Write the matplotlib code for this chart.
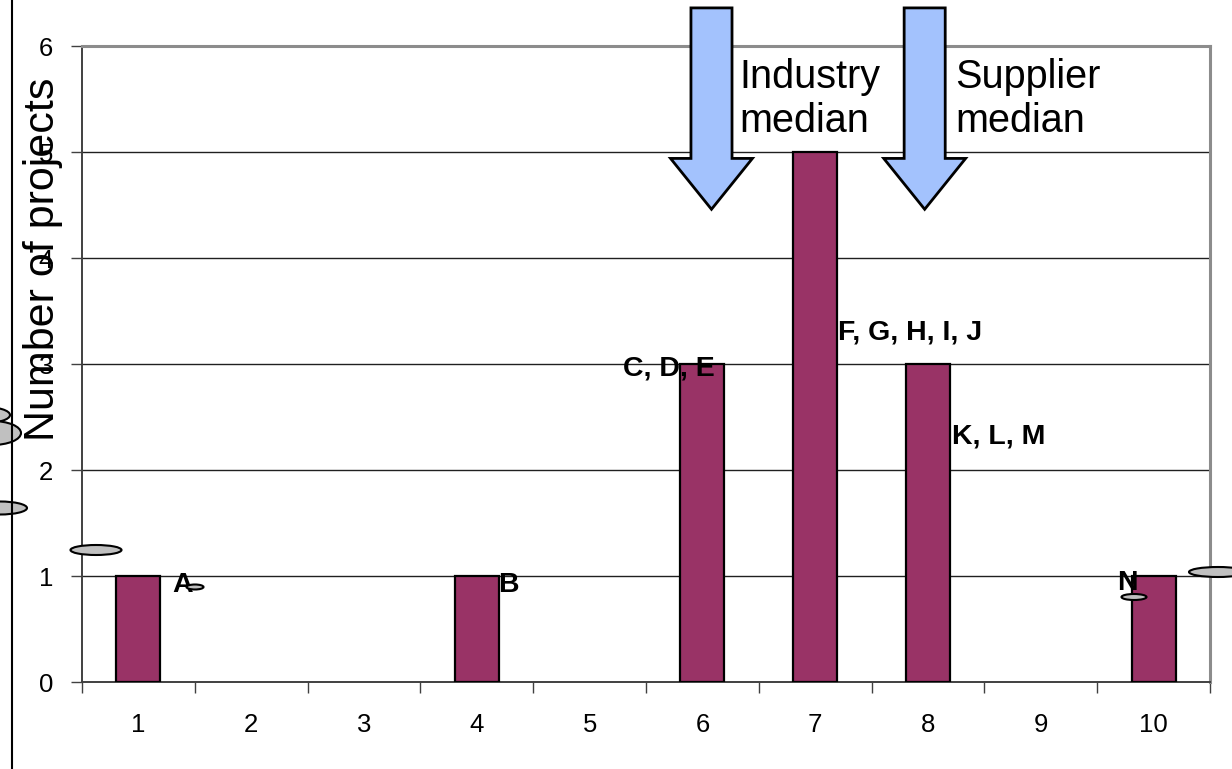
import matplotlib
matplotlib.use("Agg")
import matplotlib.pyplot as plt
from matplotlib.patches import Polygon, Ellipse
from matplotlib.lines import Line2D

plt.rcParams["font.family"] = ["Liberation Sans", "DejaVu Sans"]

# data
categories = [1, 2, 3, 4, 5, 6, 7, 8, 9, 10]
projects = [1, 0, 0, 1, 0, 3, 5, 3, 0, 1]
industry_median = 6.08
supplier_median = 7.97

# project letters next to bars: (text, x, y, ha)
bar_labels = [
    ("A", 1.30, 0.92, "left"),
    ("B", 4.19, 0.92, "left"),
    ("C, D, E", 6.11, 2.96, "right"),
    ("F, G, H, I, J", 7.20, 3.30, "left"),
    ("K, L, M", 8.21, 2.32, "left"),
    ("N", 9.68, 0.93, "left"),
]

BAR = "#993366"
ARROW = "#a3c2fd"

fig = plt.figure(figsize=(12.32, 7.69), dpi=100)
ax = fig.add_axes([0.0666, 0.1131, 0.9156, 0.827])

# only the non-empty bins get a bar (zero bins would leave an outline stub)
xs = [c for c, v in zip(categories, projects) if v > 0]
hs = [v for v in projects if v > 0]
ax.bar(xs, hs, width=0.39, color=BAR, edgecolor="black",
       linewidth=1.6, zorder=3)

ax.set_xlim(0.5, 10.5)
ax.set_ylim(0, 6)
ax.set_yticks(range(7))
ax.set_xticks(categories)
ax.set_xticks([c + 0.5 for c in range(11)], minor=True)
ax.tick_params(axis="x", which="major", length=0, pad=22, labelsize=18.5)
ax.tick_params(axis="x", which="minor", length=8, width=1, color="#404040",
               direction="out")
ax.tick_params(axis="y", length=8, width=1, color="#404040", pad=13,
               labelsize=18.5)
for y in range(1, 6):
    ax.axhline(y, color="#202020", linewidth=1, zorder=1)
for s in ["left", "bottom"]:
    ax.spines[s].set_color("#404040")
    ax.spines[s].set_linewidth(1.4)
for s in ["top", "right"]:
    ax.spines[s].set_color("#8c8c8c")
    ax.spines[s].set_linewidth(2.2)

ax.set_ylabel("Number of projects", fontsize=31)
ax.yaxis.set_label_coords(-0.017, 0.665)

for txt, x, y, ha in bar_labels:
    ax.text(x, y, txt, ha=ha, va="center", fontsize=20.5, fontweight="bold",
            zorder=6)


def down_arrow(xc):
    shaft, head = 0.182, 0.363
    top, neck, tip = 6.36, 4.94, 4.46
    pts = [(xc - shaft, top), (xc + shaft, top), (xc + shaft, neck),
           (xc + head, neck), (xc, tip), (xc - head, neck), (xc - shaft, neck)]
    ax.add_patch(Polygon(pts, closed=True, facecolor=ARROW, edgecolor="black",
                         linewidth=2, clip_on=False, zorder=5))


down_arrow(industry_median)
down_arrow(supplier_median)
for med, dx, label in [(industry_median, 0.25, "Industry\nmedian"),
                       (supplier_median, 0.27, "Supplier\nmedian")]:
    ax.text(med + dx, 5.89, label, fontsize=28.5, va="top", ha="left",
            linespacing=1.2, zorder=6,
            bbox=dict(facecolor="white", edgecolor="none", pad=1))

# overlay in pixel coordinates for the stray drawing shapes
ov = fig.add_axes([0, 0, 1, 1], zorder=10)
ov.set_xlim(0, 1232)
ov.set_ylim(769, 0)
ov.axis("off")
ov.patch.set_alpha(0)
ov.add_line(Line2D([12, 12], [0, 769], color="black", linewidth=1.5))
shapes = [(-15, 415, 50, 16), (-8, 433, 58, 24), (0, 508, 54, 13),
          (96, 550, 51, 10), (195, 587, 17, 5), (1134, 597, 25, 6),
          (1218, 572, 58, 10)]
for cx, cy, w, h in shapes:
    ov.add_patch(Ellipse((cx, cy), w, h, facecolor="#c0c0c0",
                         edgecolor="black", linewidth=1.5))

fig.savefig("out.png", dpi=100)
